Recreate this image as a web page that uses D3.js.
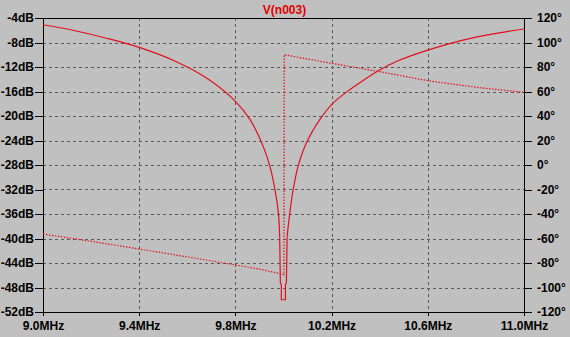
<!DOCTYPE html>
<html>
<head>
<meta charset="utf-8">
<script src="https://cdn.jsdelivr.net/npm/d3@7"></script>
<style>
  html, body { margin: 0; padding: 0; background: #c0c0c0; }
  svg { display: block; }
  text { font-family: "Liberation Sans", Arial, sans-serif; font-weight: bold; font-size: 12px; }
</style>
</head>
<body>
<script>
// Traces (frequency in MHz)
const magFreq = [9.0, 9.124, 9.264, 9.4, 9.541, 9.68, 9.8, 9.861, 9.916, 9.944, 9.965, 9.979,
  9.984, 9.987, 9.991, 9.991, 10.008, 10.008, 10.012, 10.015,
  10.026, 10.04, 10.06, 10.095, 10.151, 10.206, 10.262, 10.331, 10.4, 10.469, 10.603, 10.746, 10.885, 11.0];
const magDb = [-5.1, -6.0, -7.3, -8.8, -10.9, -13.8, -17.6, -20.6, -25.0, -28.3, -32.1, -35.9,
  -39.7, -47.3, -47.5, -50.0, -50.0, -47.5, -47.3, -39.7,
  -35.9, -32.1, -28.3, -24.4, -20.6, -17.9, -16.1, -14.2, -12.5, -11.1, -9.2, -7.6, -6.5, -5.8];
// indices where the sampled notch starts and ends (drawn with straight segments)
const notchFrom = 12, notchTo = 19;

const phaseFreq = [9.0, 9.2, 9.4, 9.6, 9.8, 9.9, 9.979, 9.991, 10.002, 10.003, 10.2, 10.4, 10.6, 10.816, 11.0];
const phaseDeg = [-56.3, -62.3, -68.6, -75.0, -81.6, -85.0, -88.4, -88.8, -89.5, 90.0, 83.0, 76.2, 68.8, 63.1, 59.3];

const freqTicks = [9.0, 9.4, 9.8, 10.2, 10.6, 11.0];
const dbTicks = d3.range(-4, -53, -4);
const degTicks = d3.range(120, -121, -20);

const width = 570, height = 337;
const mLeft = 43, mRight = 524, mTop = 18, mBottom = 312;

const svg = d3.select("body").append("svg")
  .attr("width", width)
  .attr("height", height);

svg.append("rect").attr("width", width).attr("height", height).attr("fill", "#c0c0c0");

const x = d3.scaleLinear().domain([9.0, 11.0]).range([mLeft, mRight]);
const yDb = d3.scaleLinear().domain([-52, -4]).range([mBottom, mTop]);
const yDeg = d3.scaleLinear().domain([-120, 120]).range([mBottom, mTop]);

// grid
const grid = svg.append("g")
  .attr("stroke", "#5a5a5a")
  .attr("stroke-width", 1)
  .attr("stroke-dasharray", "3,3")
  .attr("shape-rendering", "crispEdges");
grid.selectAll("line.h")
  .data(dbTicks.slice(1, -1))
  .join("line")
  .attr("class", "h")
  .attr("x1", mLeft).attr("x2", mRight)
  .attr("y1", (d) => Math.round(yDb(d)) + 0.5)
  .attr("y2", (d) => Math.round(yDb(d)) + 0.5);
grid.selectAll("line.v")
  .data(freqTicks.slice(1, -1))
  .join("line")
  .attr("class", "v")
  .attr("y1", mTop).attr("y2", mBottom)
  .attr("x1", (d) => Math.round(x(d)) + 0.5)
  .attr("x2", (d) => Math.round(x(d)) + 0.5);

// axes
const axL = d3.axisLeft(yDb).tickValues(dbTicks).tickSize(8).tickPadding(1)
  .tickFormat((d) => d + "dB");
const axR = d3.axisRight(yDeg).tickValues(degTicks).tickSize(8).tickPadding(5)
  .tickFormat((d) => d + "°");
const axB = d3.axisBottom(x).tickValues(freqTicks).tickSize(4).tickPadding(5)
  .tickFormat((d) => d.toFixed(1) + "MHz");

function styleAxis(g) {
  g.select(".domain").remove();
  g.selectAll("line").attr("stroke", "#000").attr("shape-rendering", "crispEdges");
  g.selectAll("text").attr("fill", "#000");
  g.attr("font-family", null).attr("font-size", null);
}
svg.append("g").attr("transform", `translate(${mLeft},0)`).call(axL).call(styleAxis);
svg.append("g").attr("transform", `translate(${mRight},0)`).call(axR).call(styleAxis);
svg.append("g").attr("transform", `translate(0,${mBottom})`).call(axB).call(styleAxis);

// frame
svg.append("rect")
  .attr("x", mLeft + 0.5).attr("y", mTop + 0.5)
  .attr("width", mRight - mLeft).attr("height", mBottom - mTop)
  .attr("fill", "none").attr("stroke", "#000").attr("stroke-width", 1)
  .attr("shape-rendering", "crispEdges");

// traces
const magPts = magDb.map((d, i) => [magFreq[i], d]);
const smooth = d3.line()
  .x((d) => x(d[0]))
  .y((d) => yDb(d[1]))
  .curve(d3.curveCatmullRom.alpha(0.5));
const straight = d3.line()
  .x((d) => x(d[0]))
  .y((d) => yDb(d[1]));
const magPaths = [
  smooth(magPts.slice(0, notchFrom + 1)),
  straight(magPts.slice(notchFrom, notchTo + 1)),
  smooth(magPts.slice(notchTo)),
];
svg.append("g")
  .selectAll("path")
  .data(magPaths)
  .join("path")
  .attr("d", (d) => d)
  .attr("fill", "none")
  .attr("stroke", "#e0101e")
  .attr("stroke-width", 1.2)
  .attr("stroke-linejoin", "round");

const phaseLine = d3.line().x((d, i) => x(phaseFreq[i])).y((d) => yDeg(d));
svg.append("path")
  .datum(phaseDeg)
  .attr("d", phaseLine)
  .attr("fill", "none")
  .attr("stroke", "#e0101e")
  .attr("stroke-width", 1.2)
  .attr("stroke-dasharray", "1.5,1.5");

// title
svg.append("text")
  .attr("x", (mLeft + mRight) / 2 + 1)
  .attr("y", 14)
  .attr("text-anchor", "middle")
  .attr("fill", "#e00000")
  .text("V(n003)");
</script>
</body>
</html>
